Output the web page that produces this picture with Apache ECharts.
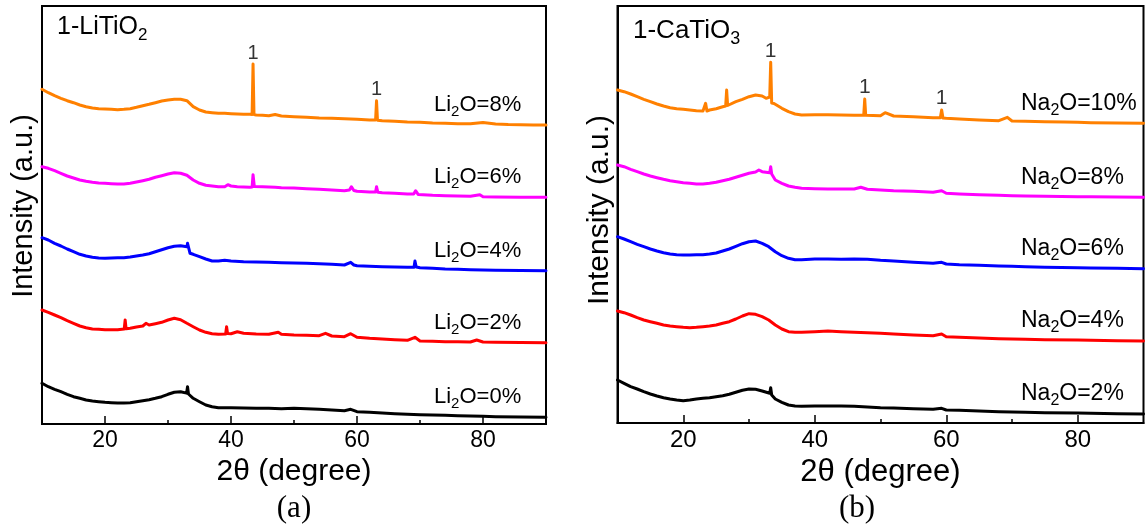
<!DOCTYPE html>
<html><head><meta charset="utf-8">
<script src="https://cdn.jsdelivr.net/npm/echarts@6/dist/echarts.min.js"></script>
<style>html,body{margin:0;padding:0;background:#fff}#c{width:1148px;height:531px}</style>
</head><body><div id="c"></div>
<script>
// ---- axis ticks ----
const xMin = 10, xMax = 90;
const majorTicks = [20, 40, 60, 80];
const minorTicks = [30, 50, 70];

// ---- panel (a): 1-LiTiO2, [2theta, intensity a.u.] ----
const namesA = ['Li2O=8%', 'Li2O=6%', 'Li2O=4%', 'Li2O=2%', 'Li2O=0%'];
const li8 = [[10,334.7],[11,331.3],[12,328.3],[13,325.7],[14,323.3],[15,321.3],[16,319],[17,317.3],[18,316],[19,315.3],[20,315],[21,314.7],[22,314.3],[23,314.7],[24,315.3],[25,316.7],[26,318.3],[27,319.7],[28,321.3],[29,323],[30,324],[31,324.7],[32,324.7],[33,323.3],[34,317.3],[35,314],[36,312],[37,311.3],[38,310.7],[39,310.7],[40,310.3],[41,310],[42,309.7],[43,309.7],[43.35,309.5],[43.5,360],[43.65,309.5],[44,309],[45,308.7],[46,308.3],[47,309.5],[48,308],[50,307.3],[52,306.7],[54,306],[56,305.7],[58,305.3],[60,304.7],[62,304],[62.95,304],[63.1,323.3],[63.25,303.8],[64,303.3],[66,302.7],[68,302],[70,301.7],[72,301],[74,300.7],[76,300.3],[78,300.3],[80,301.5],[82,300],[84,299.5],[86,299.3],[88,299],[90,299]];
const li6 = [[10,257.3],[11,255.7],[12,253.3],[13,250.7],[14,248],[15,246],[16,244],[17,242.7],[18,241.7],[19,241],[20,240.7],[21,240.3],[22,240],[23,240],[24,240.7],[25,242],[26,243.3],[27,244.7],[28,246.7],[29,248.3],[30,250],[31,251.3],[32,250.7],[33,248.7],[34,244],[35,240.7],[36,238.7],[37,238],[38,237.3],[39,237.3],[39.5,239.3],[40,238],[41,237.3],[42,237],[43,236.7],[43.35,237],[43.5,249.3],[43.7,237.5],[44,237],[45,237.3],[46,237],[47,236.7],[48,236.3],[50,236],[52,235.3],[54,234.7],[56,234],[58,233.3],[58.8,234],[59.1,237.3],[59.5,233.5],[60,232.7],[62,232],[62.95,232],[63.1,237.3],[63.3,231.8],[64,231.3],[66,230.7],[68,230],[69,230],[69.3,233.3],[69.7,229.6],[70,229.3],[72,228.7],[74,228.3],[76,228],[78,227.7],[79.5,229.3],[80,227.3],[82,227],[86,226.8],[90,226.7]];
const li4 = [[10,186.3],[11,184],[12,180.7],[13,178],[14,175],[15,172.3],[16,169.7],[17,168],[18,166.7],[19,166],[20,165.7],[21,166],[22,166.3],[23,166.3],[24,167],[25,168],[26,169],[27,170.3],[28,172.3],[29,174.3],[30,176.3],[31,177.7],[32,178.3],[33,177.3],[33.1,180.7],[33.5,170.7],[34,169.7],[35,167.3],[36,165],[37,163],[38,163],[39,163.7],[40,163],[42,162.3],[44,162],[46,161.7],[48,161.3],[50,161],[52,160.7],[54,160.3],[56,159.7],[58,159],[59,161.7],[59.5,159],[60,158.3],[62,157.7],[64,157.3],[66,157],[68,156.7],[69.05,156.7],[69.2,163],[69.4,157],[70,156.3],[72,155.7],[74,155],[76,154.7],[78,154.3],[80,154],[82,153.7],[86,153.5],[90,153.3]];
const li2 = [[10,114],[11,111.7],[12,109],[13,106.3],[14,103.3],[15,100.7],[16,98],[17,96.3],[18,95],[19,94.7],[20,94.3],[21,94.3],[22,94.3],[23.05,95],[23.2,104],[23.35,95.2],[24,95.7],[25,97],[26,98],[26.5,100.7],[27,99],[28,100.3],[29,101.7],[30,104],[31,105.7],[32,104.3],[33,100.7],[33.1,102.3],[34,97.3],[35,94],[36,91.7],[37,90.3],[38,89.7],[39.15,90],[39.3,97.3],[39.45,90.5],[40,90.3],[41,92.3],[42,90.7],[44,90],[46,89.7],[47.5,91.7],[48,89.7],[50,89],[52,88.7],[54,88.3],[55,90.7],[56,88],[58,87.3],[59,90.3],[60,86.7],[62,85.7],[64,85],[66,84.3],[68,83.7],[69.2,86.7],[70,83],[72,82.7],[74,82.3],[76,82.3],[78,82],[79,84],[80,82],[82,81.7],[86,81.5],[90,81.3]];
const li0 = [[10,40.7],[11,37.3],[12,34.7],[13,32.3],[14,29.7],[15,27.3],[16,25.7],[17,24],[18,23],[19,22.3],[20,21.7],[21,21.3],[22,21],[23,21],[24,21.3],[25,22.3],[26,23.3],[27,24.3],[28,25.7],[29,27.3],[30,29.7],[31,31.7],[32,32.3],[32.95,30.9],[33.1,37.3],[33.25,30],[34,25.7],[35,22.3],[36,19],[37,17.3],[38,16.3],[40,16.3],[42,16],[44,15.7],[46,15.7],[48,15.3],[50,15.7],[52,15.3],[54,14.7],[56,14],[58,13.3],[59,14.7],[60,12.3],[62,11.7],[64,11],[66,10.3],[68,9.7],[70,9.3],[72,9],[74,8.7],[76,8.3],[78,8],[80,7.7],[82,7.3],[86,7],[90,6.7]];
const peaksA = [[43.5,360],[63.1,323.3]];

// ---- panel (b): 1-CaTiO3 ----
const namesB = ['Na2O=10%', 'Na2O=8%', 'Na2O=6%', 'Na2O=4%', 'Na2O=2%'];
const na10 = [[10,333],[11,331.3],[12,329],[13,326.3],[14,323.7],[15,321.3],[16,319],[17,317],[18,315.3],[19,314.3],[20,313.7],[21,313],[22,312.3],[23,312],[23.4,319.7],[23.6,312],[24,313],[25,314.3],[26,316.3],[26.45,317],[26.6,333],[26.75,317.5],[27,318],[28,321.3],[29,323.7],[30,326.3],[31,328],[32,327],[32.6,324.7],[33.15,326],[33.3,360.7],[33.45,320],[33.8,319.5],[34,318],[35,314.7],[36,311.3],[37,309],[38,308],[40,308.3],[42,308.3],[44,308],[46,307.7],[47.45,307.7],[47.6,324],[47.75,307.7],[48,307.7],[50,307.3],[50.7,310.3],[52,307],[55,306.3],[58,305.3],[59.1,305.3],[59.3,313],[59.5,305],[60,304.7],[62,304],[65,303],[68,302.3],[69.3,305.7],[70,302],[72,301.7],[75,301.3],[78,301],[80,300.7],[82,300.3],[86,300],[90,299.7]];
const na8 = [[10,258],[11,256.3],[12,253.7],[13,251.3],[14,249],[15,247],[16,245.3],[17,243.7],[18,242.3],[19,241.3],[20,240.3],[21,239.7],[22,239],[23,239],[24,239.7],[25,240.7],[26,242.3],[27,243.7],[28,245.7],[29,247.7],[30,249.7],[31,251],[31.5,253],[32,251.3],[33.15,250.3],[33.3,256.3],[33.45,249],[34,243],[35,239.7],[36,237],[37,235.7],[38,234.7],[40,234.3],[42,234],[44,234],[46,234],[47,235.7],[48,233.7],[50,233],[52,232.3],[55,231.7],[58,230.7],[59.3,232.3],[60,229.7],[62,229],[65,228.3],[68,227.7],[70,227.3],[72,227],[75,226.7],[80,226.3],[82,226.3],[86,226],[90,225.7]];
const na6 = [[10,186.3],[11,184],[12,181.3],[13,178.7],[14,176.3],[15,174],[16,172],[17,170.3],[18,169],[19,168.3],[20,168],[21,168],[22,168.3],[23,168.3],[24,169],[25,170],[26,172],[27,174],[28,176.7],[29,179.3],[30,181.3],[31,182],[32,179.7],[33,176.3],[34,171.3],[35,167.3],[36,164.7],[37,163.3],[38,163.3],[40,164],[42,164],[44,163.7],[46,164],[48,163.7],[50,162.7],[52,162],[55,160.7],[58,159.7],[59.3,160.7],[60,159],[62,158.3],[65,157.7],[68,157],[70,156.7],[72,156.3],[75,155.7],[80,155.3],[82,155],[86,154.7],[90,154.3]];
const na4 = [[10,112],[11,110.3],[12,108],[13,105.3],[14,103],[15,101.3],[16,99.7],[17,98],[18,97],[19,96.3],[20,95.7],[21,95.3],[22,95.7],[23,96.3],[24,97],[25,98],[26,99.7],[27,101.3],[28,104],[29,107],[30,109.3],[31,108.7],[32,106.3],[33,103],[34,98],[35,94],[36,91.3],[37,90.7],[38,90.7],[40,91.3],[42,92],[44,91.3],[46,90.7],[48,90.3],[50,89.7],[52,89],[55,88],[58,87.3],[59.3,89],[60,86.3],[62,85.7],[65,85],[68,84.3],[70,84],[72,83.7],[75,83.3],[80,83],[82,82.7],[86,82.3],[90,82]];
const na2 = [[10,43],[11,39.7],[12,36.3],[13,34],[14,31.3],[15,29],[16,27],[17,25.3],[18,24],[19,23],[20,22.3],[21,23],[22,24],[23,24.7],[24,25.3],[25,26.3],[26,27.3],[27,28.7],[28,30.7],[29,32.7],[30,34],[31,33.7],[32,32],[33.15,29.7],[33.3,35.3],[33.45,28],[34,24],[35,20.7],[36,18],[37,17],[38,16.7],[40,17],[42,17],[44,17],[46,16.7],[48,16],[50,15.3],[52,15],[55,14.3],[58,13.7],[59.3,14.7],[60,13],[62,12.7],[65,12],[68,11.3],[70,11],[72,10.7],[75,10.3],[80,10],[82,9.7],[86,9.3],[90,9]];
const peaksB = [[33.3,360.7],[47.6,324],[59.3,313]];

const colors = ['#FF8000', '#FF00FF', '#0000FF', '#FF0000', '#000000'];
const FONT = '"Liberation Sans", Arial, Helvetica, sans-serif';
const SERIF = '"Liberation Serif", "Times New Roman", serif';

const seriesA = [li8, li6, li4, li2, li0];
const seriesB = [na10, na8, na6, na4, na2];

const grids = [
  {left: 42, top: 6, width: 504, height: 418},
  {left: 617.5, top: 6, width: 526, height: 417}
];
const yMax = [418, 417];
// panel (b) artwork is scaled ~4% larger than panel (a)
const fontScale = [1, 1.04];

function xAxes(gi) {
  const k = fontScale[gi];
  return [
    {
      type: 'value', gridIndex: gi, min: xMin, max: xMax, position: 'bottom',
      name: '2\u03B8 (degree)', nameLocation: 'middle', nameGap: 29,
      nameTextStyle: {fontFamily: FONT, fontSize: Math.round(30 * k), color: '#000'},
      axisLine: {show: true, onZero: false, lineStyle: {color: '#000', width: 2}},
      axisTick: {show: true, inside: true, length: 8, customValues: majorTicks, lineStyle: {color: '#000', width: 1.5}},
      axisLabel: {show: true, customValues: majorTicks, margin: 5, fontFamily: FONT, fontSize: Math.round(23 * k), color: '#000'},
      splitLine: {show: false}
    },
    {
      type: 'value', gridIndex: gi, min: xMin, max: xMax, position: 'bottom', offset: 0,
      axisLine: {show: false},
      axisTick: {show: true, inside: true, length: 4, customValues: minorTicks, lineStyle: {color: '#000', width: 1.5}},
      axisLabel: {show: false},
      splitLine: {show: false}
    }
  ];
}

function richName(n) {
  return n.replace(/^([A-Za-z]+)2(O.*)$/, '{n|$1}{s|2}{n|$2}');
}

const LW = 3;
const option = {
  animation: false,
  backgroundColor: '#fff',
  grid: grids.map(g => Object.assign({show: true, borderColor: '#000', borderWidth: 2, backgroundColor: 'transparent', containLabel: false, outerBoundsMode: 'none'}, g)),
  xAxis: [...xAxes(0), ...xAxes(1)],
  yAxis: [0, 1].map(gi => ({
    type: 'value', gridIndex: gi, min: 0, max: yMax[gi],
    axisLine: {show: true, lineStyle: {color: '#000', width: 2}},
    axisTick: {show: false}, axisLabel: {show: false}, splitLine: {show: false}
  })),
  series: [
    ...seriesA.map((d, i) => ({
      type: 'line', name: namesA[i], xAxisIndex: 0, yAxisIndex: 0, data: d,
      showSymbol: false, symbol: 'none', silent: true,
      lineStyle: {color: colors[i], width: LW, join: 'round', cap: 'round'}, z: 2 + i
    })),
    ...seriesB.map((d, i) => ({
      type: 'line', name: namesB[i], xAxisIndex: 2, yAxisIndex: 1, data: d,
      showSymbol: false, symbol: 'none', silent: true,
      lineStyle: {color: colors[i], width: LW, join: 'round', cap: 'round'}, z: 2 + i
    })),
    {
      type: 'scatter', xAxisIndex: 0, yAxisIndex: 0, data: peaksA, symbolSize: 0, silent: true,
      label: {show: true, formatter: '1', position: 'top', distance: 1, fontFamily: FONT, fontSize: 20, color: '#000'}
    },
    {
      type: 'scatter', xAxisIndex: 2, yAxisIndex: 1, data: peaksB, symbolSize: 0, silent: true,
      label: {show: true, formatter: '1', position: 'top', distance: 1, fontFamily: FONT, fontSize: 21, color: '#000'}
    }
  ]
};

const chart = echarts.init(document.getElementById('c'), null, {renderer: 'canvas'});
chart.setOption(option);

function richFor(size, sub, lh) {
  return {
    n: {fontFamily: FONT, fontSize: size, color: '#000', lineHeight: lh},
    s: {fontFamily: FONT, fontSize: sub, color: '#000', lineHeight: sub, verticalAlign: 'bottom'}
  };
}
const richA = richFor(22, 15, 29);
const richB = richFor(23, 16, 30);

const graphics = [];
// series labels, anchored ~20 px above each curve's last point
seriesA.forEach((d, i) => {
  const p = chart.convertToPixel({xAxisIndex: 0, yAxisIndex: 0}, d[d.length - 1]);
  graphics.push({type: 'text', x: 434, y: p[1] - 20, style: {text: richName(namesA[i]), rich: richA, align: 'left', verticalAlign: 'middle'}});
});
seriesB.forEach((d, i) => {
  const p = chart.convertToPixel({xAxisIndex: 2, yAxisIndex: 1}, d[d.length - 1]);
  graphics.push({type: 'text', x: 1021, y: p[1] - 20, style: {text: richName(namesB[i]), rich: richB, align: 'left', verticalAlign: 'middle'}});
});
// panel titles
graphics.push({type: 'text', x: 57, y: 27, style: {text: '{n|1-LiTiO}{s|2}', rich: richFor(25, 17, 34), align: 'left', verticalAlign: 'middle'}});
graphics.push({type: 'text', x: 633, y: 31, style: {text: '{n|1-CaTiO}{s|3}', rich: richFor(26, 18, 35), align: 'left', verticalAlign: 'middle'}});
// y axis titles
graphics.push({type: 'text', x: 24, y: 206, rotation: Math.PI / 2, style: {text: 'Intensity (a.u.)', font: '29px ' + FONT, fill: '#000', align: 'center', verticalAlign: 'middle'}});
graphics.push({type: 'text', x: 600, y: 210, rotation: Math.PI / 2, style: {text: 'Intensity (a.u.)', font: '30px ' + FONT, fill: '#000', align: 'center', verticalAlign: 'middle'}});
// sub-figure captions
graphics.push({type: 'text', x: 294, y: 509, style: {text: '(a)', font: '31px ' + SERIF, fill: '#000', align: 'center', verticalAlign: 'middle'}});
graphics.push({type: 'text', x: 857, y: 509, style: {text: '(b)', font: '31px ' + SERIF, fill: '#000', align: 'center', verticalAlign: 'middle'}});

chart.setOption({graphic: graphics});
</script>
</body></html>
